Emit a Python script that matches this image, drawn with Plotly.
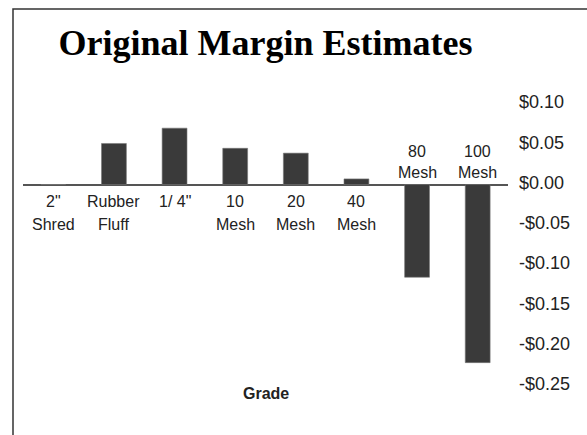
import plotly.graph_objects as go

categories = ["2\"<br>Shred", "Rubber<br>Fluff", "1/ 4\"", "10<br>Mesh", "20<br>Mesh", "40<br>Mesh", "80<br>Mesh", "100<br>Mesh"]
margins = [0.0, 0.051, 0.070, 0.045, 0.039, 0.007, -0.115, -0.221]
tick_vals = [0.10, 0.05, 0.0, -0.05, -0.10, -0.15, -0.20, -0.25]
tick_text = ["$0.10", "$0.05", "$0.00", "-$0.05", "-$0.10", "-$0.15", "-$0.20", "-$0.25"]

W, H = 587, 435
L, R, T, B = 23, 79, 104, 49

xs = list(range(len(categories)))

fig = go.Figure()
fig.add_trace(go.Bar(
    x=xs, y=margins, width=0.41,
    marker=dict(color="#3a3a3a", line=dict(color="#777777", width=0.6)),
    hoverinfo="skip",
))

font_main = "Liberation Sans, Arial, sans-serif"
annotations = []
for i, (c, v) in enumerate(zip(categories, margins)):
    lines = c.split("<br>")
    n = len(lines)
    for k, line in enumerate(lines):
        if v < 0:
            shift = 12.5 + 21 * (n - 1 - k)
        else:
            shift = -(17 + 23 * k)
        annotations.append(dict(x=i, y=0, xref="x", yref="y", text=line, showarrow=False,
                                yanchor="middle", yshift=shift,
                                font=dict(family=font_main, size=16, color="#222")))

plot_w = W - L - R
plot_h = H - T - B

def px_x(px):
    return (px - L) / plot_w

def px_y(py):
    return (H - B - py) / plot_h

annotations.append(dict(x=0.5, xref="paper", y=px_y(393), yref="paper", yanchor="middle",
                        text="<b>Grade</b>", showarrow=False,
                        font=dict(family=font_main, size=16, color="#222")))

fig.update_layout(
    width=W, height=H,
    margin=dict(l=L, r=R, t=T, b=B, pad=0),
    paper_bgcolor="white", plot_bgcolor="white",
    showlegend=False,
    title=dict(text="<b>Original Margin Estimates</b>", x=px_x(265.5), xref="paper",
               xanchor="center", y=1 - 42 / H, yanchor="middle",
               font=dict(family="Liberation Serif, Times New Roman, serif", size=36, color="black")),
    xaxis=dict(range=[-0.5, len(categories) - 0.5], showticklabels=False, showgrid=False,
               zeroline=False, showline=False, ticks=""),
    yaxis=dict(range=[-0.25, 0.10], side="right", tickvals=tick_vals, ticktext=tick_text,
               showgrid=False, zeroline=True, zerolinecolor="#555555", zerolinewidth=1.5,
               showline=False, ticks="", ticklabelstandoff=10, ticklabelshift=-2,
               tickfont=dict(family=font_main, size=18, color="#222")),
    annotations=annotations,
    shapes=[dict(type="rect", xref="paper", yref="paper",
                 x0=px_x(13), x1=px_x(620), y0=px_y(470), y1=px_y(9),
                 line=dict(color="#333333", width=1.5), fillcolor="rgba(0,0,0,0)", layer="below")],
)

fig.write_html("out.html")
